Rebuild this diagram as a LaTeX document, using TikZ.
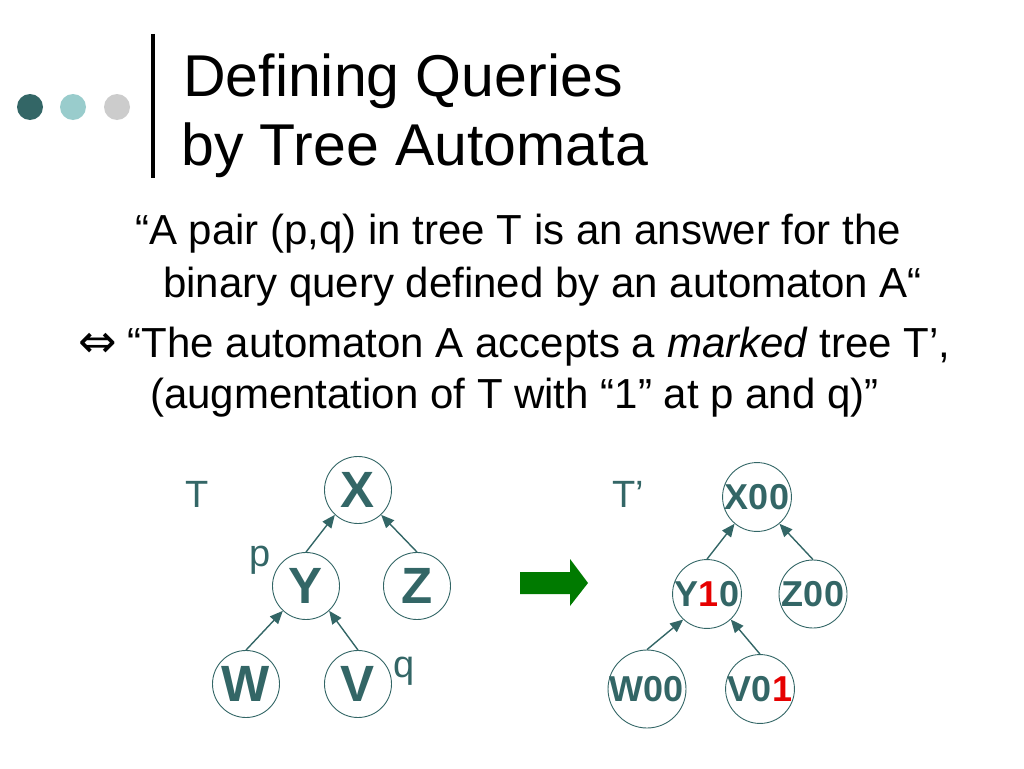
\documentclass[tikz,border=0pt]{standalone}
\usepackage{fontspec}
\setmainfont{Liberation Sans}
\newfontfamily\symfont{DejaVu Sans}
\usetikzlibrary{arrows.meta}
\definecolor{teal1}{RGB}{51,102,102}
\definecolor{teal2}{RGB}{153,204,204}
\definecolor{grey1}{RGB}{204,204,204}
\definecolor{arrgreen}{RGB}{0,122,0}
\definecolor{markred}{RGB}{230,0,0}
\tikzset{
  title/.style={anchor=base west, inner sep=0pt, font=\fontsize{59}{66}\selectfont},
  body/.style={anchor=base west, inner sep=0pt, font=\fontsize{42}{50}\selectfont},
  lbl/.style={anchor=base west, inner sep=0pt, text=teal1, font=\fontsize{38}{44}\selectfont},
  tn/.style={circle, draw=teal1, line width=0.9pt, minimum size=67pt, inner sep=0pt, text=teal1, font=\fontsize{51}{56}\selectfont\bfseries},
  tm/.style={circle, draw=teal1, line width=0.9pt, minimum size=68pt, inner sep=0pt, text=teal1, font=\fontsize{36}{40}\selectfont\bfseries},
  edge/.style={draw=teal1, line width=1.4pt, -{Triangle[length=13pt,width=11pt]}},
}
\begin{document}
\begin{tikzpicture}[x=1pt,y=-1pt]
\useasboundingbox (0,0) rectangle (1024,768);
% title decorations
\fill[teal1] (30,107) circle (13);
\fill[teal2] (73,107) circle (13);
\fill[grey1] (117,107) circle (13);
\draw[line width=4pt] (153,34) -- (153,178);
\node[title] (t1) at (183,96) {Defining Queries};
\node[title] (t2) at (181,165) {by Tree Automata};
% body
\node[body] (b1) at (135,244) {“A pair (p,q) in tree T is an answer for the};
\node[body] (b2) at (163,297) {binary query defined by an automaton A“};
\node[body] (b3) at (78,357) {{\symfont\fontsize{46}{50}\selectfont ⇔}\hspace{11pt}“The automaton A accepts a \textit{marked} tree T’,};
\node[body] (b4) at (150,408) {(augmentation of T with “1” at p and q)”};
% left tree
\node[lbl] (T) at (185,507) {T};
\node[lbl] (p) at (249,566) {p};
\node[lbl] (q) at (393,677) {q};
\node[tn] (X) at (358,490) {X};
\node[tn] (Y) at (306,586) {Y};
\node[tn] (Z) at (417,586) {Z};
\node[tn] (W) at (246,684) {W};
\node[tn] (V) at (358,684) {V};
\draw[edge] (Y.north) -- (X.-133);
\draw[edge] (Z.north) -- (X.-47);
\draw[edge] (W.north) -- (Y.-133);
\draw[edge] (V.north) -- (Y.-47);
% green arrow
\fill[arrgreen] (520,572) -- (570,572) -- (570,559) -- (588,583) -- (570,606) -- (570,594) -- (520,594) -- cycle;
% right tree
\node[lbl] (Tp) at (612,507) {T’};
\node[tm] (X2) at (757,497) {X00};
\node[tm] (Y2) at (707,594) {Y\textcolor{markred}{1}0};
\node[tm] (Z2) at (813,594) {Z00};
\node[tm] (W2) at (647,689) {W00};
\node[tm] (V2) at (760,689) {V0\textcolor{markred}{1}};
\draw[edge] (Y2.north) -- (X2.-130);
\draw[edge] (Z2.north) -- (X2.-50);
\draw[edge] (W2.north) -- (Y2.-133);
\draw[edge] (V2.north) -- (Y2.-47);
\end{tikzpicture}
\end{document}
